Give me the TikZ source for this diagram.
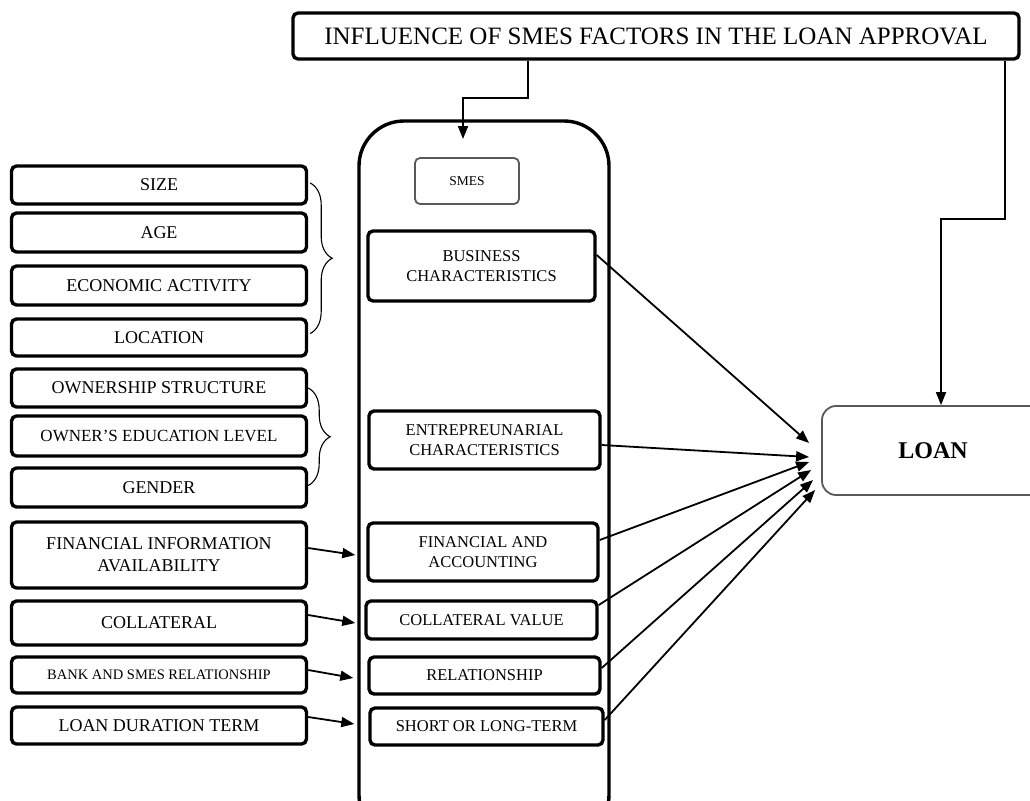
\documentclass[tikz,border=0pt]{standalone}
\usepackage{fontspec}
\setmainfont{Liberation Serif}
\usetikzlibrary{arrows.meta,decorations.pathreplacing}
\begin{document}
\begin{tikzpicture}[x=1pt, y=-1pt,
    sidebox/.style={draw, line width=3.4pt, rounded corners=5pt, minimum width=295pt,
      inner sep=0pt, align=center, font=\fontsize{18}{22}\selectfont},
    midbox/.style={draw, line width=3.4pt, rounded corners=5pt, inner sep=0pt,
      align=center, font=\fontsize{16.5}{20}\selectfont},
    thinbox/.style={draw=black!65, line width=1.8pt, inner sep=0pt, align=center},
    conn/.style={line width=1.8pt, -{Triangle[length=13pt,width=10pt]}},
    grp/.style={line width=1.1pt, decorate, decoration={brace, amplitude=22pt}}
  ]
  \useasboundingbox (0,0) rectangle (1030,800);
  \clip (0,0) rectangle (1030,800);

  % top
  \node[draw, line width=3.4pt, rounded corners=5pt, minimum width=726pt, minimum height=46pt,
    font=\fontsize{25}{28}\selectfont] at (656,36) (title)
    {INFLUENCE OF SMES FACTORS IN THE LOAN APPROVAL};

  % centre column
  \node[draw, line width=3.4pt, rounded corners=45pt, minimum width=250pt, minimum height=719pt]
    at (484,480.5) (frame) {};
  \node[thinbox, rounded corners=5pt, minimum width=104pt, minimum height=46pt,
    font=\fontsize{13.5}{16}\selectfont] at (467,181) (smes) {SMES};
  \node[midbox, minimum width=227pt, minimum height=70pt] at (481.5,266) (bc) {BUSINESS\\CHARACTERISTICS};
  \node[midbox, minimum width=231pt, minimum height=58pt] at (484.5,440) (ec) {ENTREPREUNARIAL\\CHARACTERISTICS};
  \node[midbox, minimum width=230pt, minimum height=58pt] at (483,552) (fa) {FINANCIAL AND\\ACCOUNTING};
  \node[midbox, minimum width=231pt, minimum height=38pt] at (481.5,620) (cv) {COLLATERAL VALUE};
  \node[midbox, minimum width=231pt, minimum height=37pt] at (484.5,675.5) (rel) {RELATIONSHIP};
  \node[midbox, minimum width=233pt, minimum height=37pt] at (486.5,726.5) (slt) {SHORT OR LONG-TERM};

  % left side
  \node[sidebox, minimum height=38pt] at (159,185) (size) {SIZE};
  \node[sidebox, minimum height=39pt] at (159,232.5) (age) {AGE};
  \node[sidebox, minimum height=39pt] at (159,285.5) (econ) {ECONOMIC ACTIVITY};
  \node[sidebox, minimum height=37pt] at (159,337.5) (loc) {LOCATION};
  \node[sidebox, minimum height=38pt] at (159,388) (own) {OWNERSHIP STRUCTURE};
  \node[sidebox, minimum height=40pt, font=\fontsize{17}{20}\selectfont] at (159,436) (edu) {OWNER’S EDUCATION LEVEL};
  \node[sidebox, minimum height=39pt] at (159,487.5) (gen) {GENDER};
  \node[sidebox, minimum height=66pt] at (159,555) (fia) {FINANCIAL INFORMATION\\AVAILABILITY};
  \node[sidebox, minimum height=44pt] at (159,623) (col) {COLLATERAL};
  \node[sidebox, minimum height=36pt, font=\fontsize{14.5}{17}\selectfont] at (159,675) (bank) {BANK AND SMES RELATIONSHIP};
  \node[sidebox, minimum height=37pt] at (159,725.5) (ldt) {LOAN DURATION TERM};

  % right side
  \node[thinbox, rounded corners=14pt, minimum width=222pt, minimum height=89pt,
    font=\bfseries\fontsize{24}{28}\selectfont] at (933,450.5) (loan) {LOAN};

  % braces
  \draw[grp] ([xshift=2pt,yshift=2pt]size.east) -- ([xshift=2pt,yshift=4pt]loc.east);
  \draw[grp] (own.east) -- ([yshift=2pt]gen.east);

  % edges from the title
  \coordinate (smesin) at (463,139);
  \draw[conn] ([xshift=-128pt]title.south) -- ++(0,37) -| (smesin);
  \draw[conn] ([xshift=349pt]title.south) -- ++(0,158) -| ([xshift=8pt]loan.north);

  % edges into the centre column
  \draw[conn] ([yshift=7pt]fia.east) -- ([xshift=-11pt,yshift=-3pt]fa.west);
  \draw[conn] ([yshift=8pt]col.east) -- ([xshift=-9pt,yshift=-3pt]cv.west);
  \draw[conn] ([yshift=5pt]bank.east) -- ([xshift=-14pt,yshift=-2.5pt]rel.west);
  \draw[conn] ([yshift=8.5pt]ldt.east) -- ([xshift=-14pt,yshift=2.5pt]slt.west);

  % edges into the loan
  \draw[conn] ([yshift=11pt]bc.east) -- ([xshift=-12pt,yshift=7.5pt]loan.west);
  \draw[conn] ([yshift=-5pt]ec.east) -- ([xshift=-12pt,yshift=-6.5pt]loan.west);
  \draw[conn] ([yshift=12pt]fa.east) -- ([xshift=-12pt,yshift=-11.5pt]loan.west);
  \draw[conn] ([yshift=15pt]cv.east) -- ([xshift=-10pt,yshift=-19.5pt]loan.west);
  \draw[conn] ([yshift=7.5pt]rel.east) -- ([xshift=-8pt,yshift=-29.5pt]loan.west);
  \draw[conn] ([yshift=6.5pt]slt.east) -- ([xshift=-6pt,yshift=-39.5pt]loan.west);
\end{tikzpicture}
\end{document}
